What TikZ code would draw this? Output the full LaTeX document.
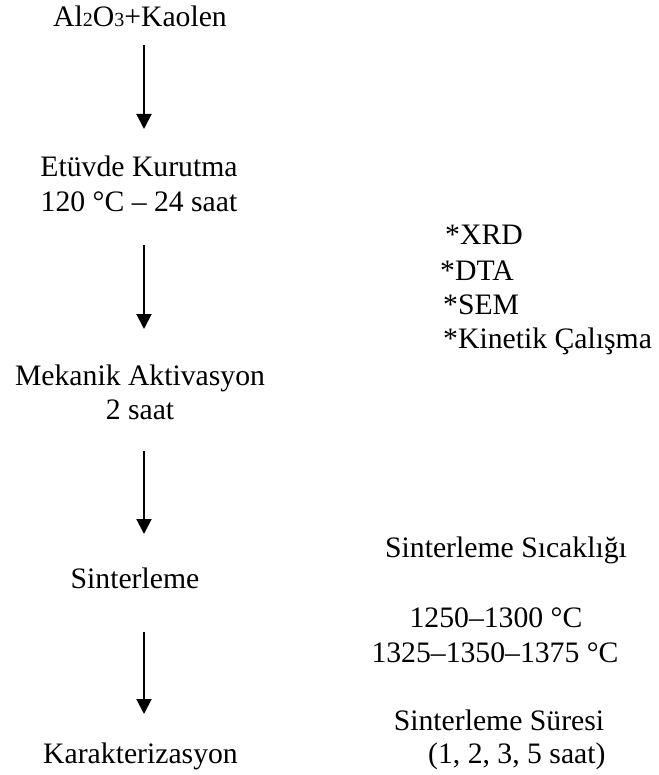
\documentclass[tikz,border=0pt]{standalone}
\usepackage{fontspec}
\setmainfont{Liberation Serif}
\usetikzlibrary{arrows.meta}
\begin{document}
\begin{tikzpicture}[x=1pt,y=-1pt,
  txt/.style={inner sep=0pt,font=\fontsize{29.7}{34.5}\selectfont,anchor=base},
  ltxt/.style={txt,anchor=base west},
  flow/.style={line width=2pt,-{Triangle[width=15pt,length=15pt]}}]
\useasboundingbox (0,0) rectangle (658,775);
\fill[white] (0,0) rectangle (658,775);
% left column
\node[txt] (n1) at (140,27) {Al{\fontsize{20}{20}\selectfont 2}O{\fontsize{20}{20}\selectfont 3}+Kaolen};
\node[txt] (n2a) at (139,177) {Etüvde Kurutma};
\node[txt] (n2b) at (139,212) {120 °C – 24 saat};
\node[txt] (n3a) at (140,385) {Mekanik Aktivasyon};
\node[txt] (n3b) at (140,419) {2 saat};
\node[txt] (n4) at (135,588) {Sinterleme};
\node[txt] (n5) at (140.5,763) {Karakterizasyon};
% arrows
\coordinate (a1s) at (144,45);  \coordinate (a1e) at (144,129);
\coordinate (a2s) at (144,245); \coordinate (a2e) at (144,329);
\coordinate (a3s) at (144,451); \coordinate (a3e) at (144,534);
\coordinate (a4s) at (144,632); \coordinate (a4e) at (144,714);
\draw[flow] (a1s) -- (a1e);
\draw[flow] (a2s) -- (a2e);
\draw[flow] (a3s) -- (a3e);
\draw[flow] (a4s) -- (a4e);
% right column
\node[ltxt] (r1) at (445,245) {*XRD};
\node[ltxt] (r2) at (440,280) {*DTA};
\node[ltxt] (r3) at (443,314) {*SEM};
\node[ltxt] (r4) at (443,348) {*Kinetik Çalışma};
\node[txt] (s1) at (506,557) {Sinterleme Sıcaklığı};
\node[txt] (s2) at (496,627) {1250–1300 °C};
\node[txt] (s3) at (495,662) {1325–1350–1375 °C};
\node[txt] (s4) at (499,730) {Sinterleme Süresi};
\node[ltxt] (s5) at (428,763) {(1, 2, 3, 5 saat)};
\end{tikzpicture}
\end{document}
